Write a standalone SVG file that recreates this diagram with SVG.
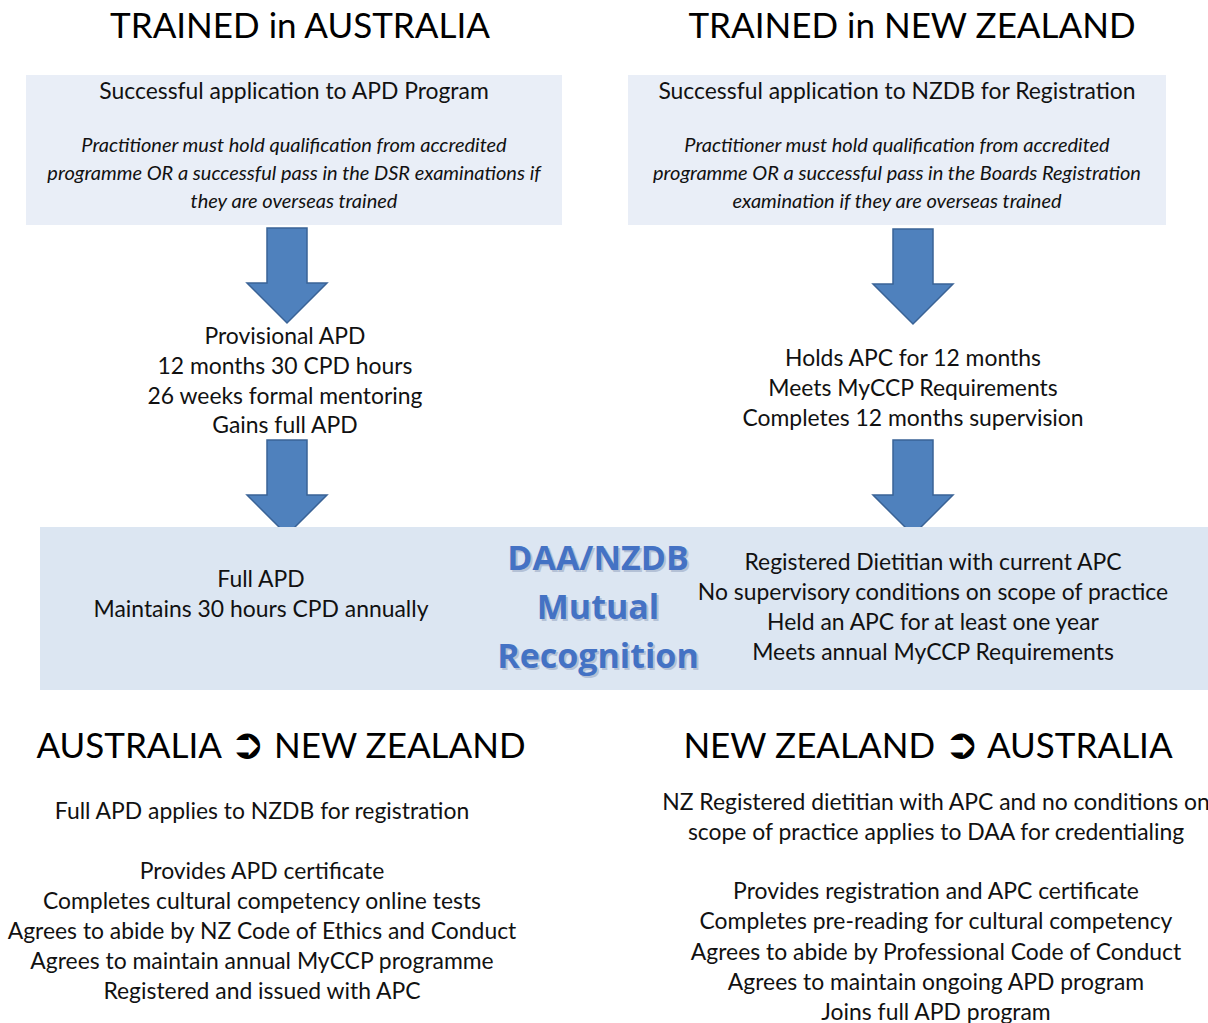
<svg xmlns="http://www.w3.org/2000/svg" width="1208" height="1023" viewBox="0 0 1208 1023">
<defs>
<style>
.t{font-family:Lato,"Open Sans","Liberation Sans",sans-serif;fill:#111;text-anchor:middle}
.h{font-size:35px;fill:#000}
.n{font-size:22.9px}
.i{font-size:20px;font-style:italic}
.box{fill:#E9EEF7}
.band{fill:#DCE6F2}
.arr{fill:#4F81BD;stroke:#3A6396;stroke-width:1.5}
.big{font-family:"Open Sans",Lato,"Liberation Sans",sans-serif;font-weight:bold;font-size:34px;fill:#4472C4;text-anchor:middle}
.sh{fill:#9aa9c4;opacity:0.6}
.sym{font-family:"DejaVu Sans",sans-serif;font-weight:bold;font-size:42px}
</style>
<path id="dn" d="M-20,0 H20 V55 H40 L0,95 L-40,55 H-20 Z"/>
</defs>

<g id="title-au"><text class="t h" x="300" y="38">TRAINED in AUSTRALIA</text></g>
<g id="title-nz"><text class="t h" x="912" y="38">TRAINED in NEW ZEALAND</text></g>

<g id="box-au">
<rect class="box" x="26" y="75" width="536" height="150"/>
<text class="t n" x="294" y="99">Successful application to APD Program</text>
<text class="t i" x="294" y="152">Practitioner must hold qualification from accredited</text>
<text class="t i" x="294" y="180">programme OR a successful pass in the DSR examinations if</text>
<text class="t i" x="294" y="208">they are overseas trained</text>
</g>

<g id="box-nz">
<rect class="box" x="628" y="75" width="538" height="150"/>
<text class="t n" x="897" y="99">Successful application to NZDB for Registration</text>
<text class="t i" x="897" y="152">Practitioner must hold qualification from accredited</text>
<text class="t i" x="897" y="180">programme OR a successful pass in the Boards Registration</text>
<text class="t i" x="897" y="208">examination if they are overseas trained</text>
</g>

<g id="connectors">
<use href="#dn" class="arr" x="287" y="228"/>
<use href="#dn" class="arr" x="287" y="440"/>
<use href="#dn" class="arr" x="913" y="229"/>
<use href="#dn" class="arr" x="913" y="440"/>
</g>

<g id="provisional-apd">
<text class="t n" x="285" y="344">Provisional APD</text>
<text class="t n" x="285" y="374">12 months 30 CPD hours</text>
<text class="t n" x="285" y="404">26 weeks formal mentoring</text>
<text class="t n" x="285" y="433">Gains full APD</text>
</g>

<g id="holds-apc">
<text class="t n" x="913" y="366">Holds APC for 12 months</text>
<text class="t n" x="913" y="396">Meets MyCCP Requirements</text>
<text class="t n" x="913" y="426">Completes 12 months supervision</text>
</g>

<g id="mutual-recognition">
<rect class="band" x="40" y="527" width="1168" height="163"/>
<text class="t n" x="261" y="587">Full APD</text>
<text class="t n" x="261" y="617">Maintains 30 hours CPD annually</text>
<text class="big sh" x="600" y="572">DAA/NZDB</text>
<text class="big sh" x="600" y="621">Mutual</text>
<text class="big sh" x="600" y="670">Recognition</text>
<text class="big" x="598" y="570">DAA/NZDB</text>
<text class="big" x="598" y="619">Mutual</text>
<text class="big" x="598" y="668">Recognition</text>
<text class="t n" x="933" y="570">Registered Dietitian with current APC</text>
<text class="t n" x="933" y="600">No supervisory conditions on scope of practice</text>
<text class="t n" x="933" y="630">Held an APC for at least one year</text>
<text class="t n" x="933" y="660">Meets annual MyCCP Requirements</text>
</g>

<g id="au-to-nz">
<text class="t h" x="281" y="758">AUSTRALIA <tspan class="sym">➲</tspan> NEW ZEALAND</text>
<text class="t n" x="262" y="819">Full APD applies to NZDB for registration</text>
<text class="t n" x="262" y="879">Provides APD certificate</text>
<text class="t n" x="262" y="909">Completes cultural competency online tests</text>
<text class="t n" x="262" y="939">Agrees to abide by NZ Code of Ethics and Conduct</text>
<text class="t n" x="262" y="969">Agrees to maintain annual MyCCP programme</text>
<text class="t n" x="262" y="999">Registered and issued with APC</text>
</g>

<g id="nz-to-au">
<text class="t h" x="928" y="758">NEW ZEALAND <tspan class="sym">➲</tspan> AUSTRALIA</text>
<text class="t n" x="936" y="810">NZ Registered dietitian with APC and no conditions on</text>
<text class="t n" x="936" y="840">scope of practice applies to DAA for credentialing</text>
<text class="t n" x="936" y="899">Provides registration and APC certificate</text>
<text class="t n" x="936" y="929">Completes pre-reading for cultural competency</text>
<text class="t n" x="936" y="960">Agrees to abide by Professional Code of Conduct</text>
<text class="t n" x="936" y="990">Agrees to maintain ongoing APD program</text>
<text class="t n" x="936" y="1020">Joins full APD program</text>
</g>
</svg>
